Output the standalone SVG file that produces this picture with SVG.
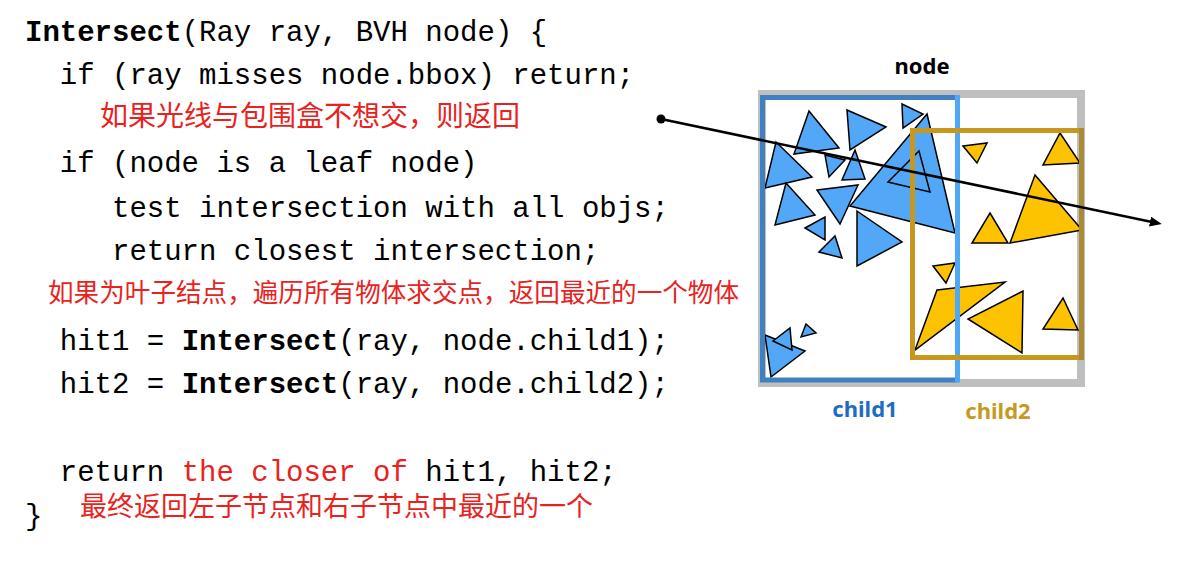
<svg xmlns="http://www.w3.org/2000/svg" width="1189" height="568" viewBox="0 0 1189 568">
<style>
.code{font-family:"Liberation Mono","Courier New",monospace;font-size:29px;fill:#000}
.b{font-weight:bold}
.red{fill:#e8231e}
.cn{font-family:"Noto Sans CJK SC","Noto Sans",sans-serif;fill:#e8231e}
.lbl{font-family:"Noto Sans","Open Sans",sans-serif;font-weight:bold;font-size:22px;text-anchor:middle}
.tb{fill:#52a8f7;stroke:#000;stroke-width:1.5;stroke-linejoin:miter}
.ty{fill:#fec300;stroke:#000;stroke-width:1.5;stroke-linejoin:miter}
</style>
<defs>
<marker id="arrow" markerUnits="userSpaceOnUse" markerWidth="14" markerHeight="12" refX="2" refY="5" orient="auto">
<path d="M0,0 L12,5 L0,10 z" fill="#000"/>
</marker>
</defs>
<rect width="1189" height="568" fill="#fff"/>
<g id="code">
<text class="code" x="25" y="41"><tspan class="b">Intersect</tspan>(Ray ray, BVH node) {</text>
<text class="code" x="59.8" y="84">if (ray misses node.bbox) return;</text>
<text class="cn" x="100" y="126" font-size="28">如果光线与包围盒不想交，则返回</text>
<text class="code" x="59.8" y="172">if (node is a leaf node)</text>
<text class="code" x="112" y="217">test intersection with all objs;</text>
<text class="code" x="112" y="260">return closest intersection;</text>
<text class="cn" x="48" y="302" font-size="25.6">如果为叶子结点，遍历所有物体求交点，返回最近的一个物体</text>
<text class="code" x="59.8" y="350">hit1 = <tspan class="b">Intersect</tspan>(ray, node.child1);</text>
<text class="code" x="59.8" y="393">hit2 = <tspan class="b">Intersect</tspan>(ray, node.child2);</text>
<text class="code" x="59.8" y="481">return <tspan class="red">the closer of</tspan> hit1, hit2;</text>
<text class="cn" x="80" y="516" font-size="27">最终返回左子节点和右子节点中最近的一个</text>
<text class="code" x="25" y="525">}</text>
</g>
<g id="node">
<rect x="762" y="94" width="319" height="289" fill="none" stroke="#bfbfbf" stroke-width="8"/>
<text class="lbl" x="922" y="74" fill="#000">node</text>
</g>
<g id="objects">
<polygon class="tb" points="809,111 839,148 794,154"/>
<polygon class="tb" points="847,110 886,127 850,150"/>
<polygon class="tb" points="902,104 923,114 903,128"/>
<polygon class="tb" points="776,142 812,177 765,188"/>
<polygon class="tb" points="825,155 845,160 829,177"/>
<polygon class="tb" points="855,150 865,179 842,180"/>
<polygon class="tb" points="817,190 858,185 840,224"/>
<polygon class="tb" points="927,114 850,206 955,233"/>
<polygon class="tb" points="919,151 930,192 888,182"/>
<polygon class="tb" points="786,183 815,215 775,225"/>
<polygon class="tb" points="805,228 825,217 825,240"/>
<polygon class="tb" points="819,252 835,236 842,258"/>
<polygon class="tb" points="857,211 902,242 857,266"/>
<polygon class="tb" points="765,335 805,351 771,377"/>
<polygon class="tb" points="773,341 790,328 792,350"/>
<polygon class="tb" points="801,337 806,324 816,333"/>
<polygon class="ty" points="963,146 987,143 977,163"/>
<polygon class="ty" points="1060,133 1080,163 1043,165"/>
<polygon class="ty" points="1035,175 1010,243 1082,230"/>
<polygon class="ty" points="990,213 1008,243 972,243"/>
<polygon class="ty" points="933,266 955,263 946,283"/>
<polygon class="ty" points="937,290 1005,282 915,350"/>
<polygon class="ty" points="1023,291 1022,353 968,319"/>
<polygon class="ty" points="1063,298 1078,330 1043,329"/>
</g>
<g id="child1">
<polyline points="957.5,97.5 762.5,97.5 762.5,380 957.5,380" fill="none" stroke="#3e80c2" stroke-width="5"/>
<line x1="957.5" y1="95" x2="957.5" y2="382.5" stroke="#4fa8f5" stroke-width="5"/>
<text class="lbl" x="865" y="417" fill="#1f6cc4">child1</text>
</g>
<g id="child2">
<polyline points="1081,130.5 912.5,130.5 912.5,357.5 1081,357.5" fill="none" stroke="#c8981e" stroke-width="5"/>
<line x1="1081.5" y1="128" x2="1081.5" y2="360" stroke="#a98a35" stroke-width="5"/>
<text class="lbl" x="998" y="419" fill="#c69a22">child2</text>
</g>
<g id="connectors">
<circle cx="661" cy="119" r="4.5" fill="#000"/>
<line x1="661" y1="119" x2="1152" y2="222" stroke="#000" stroke-width="2.5" marker-end="url(#arrow)"/>
</g>
</svg>
